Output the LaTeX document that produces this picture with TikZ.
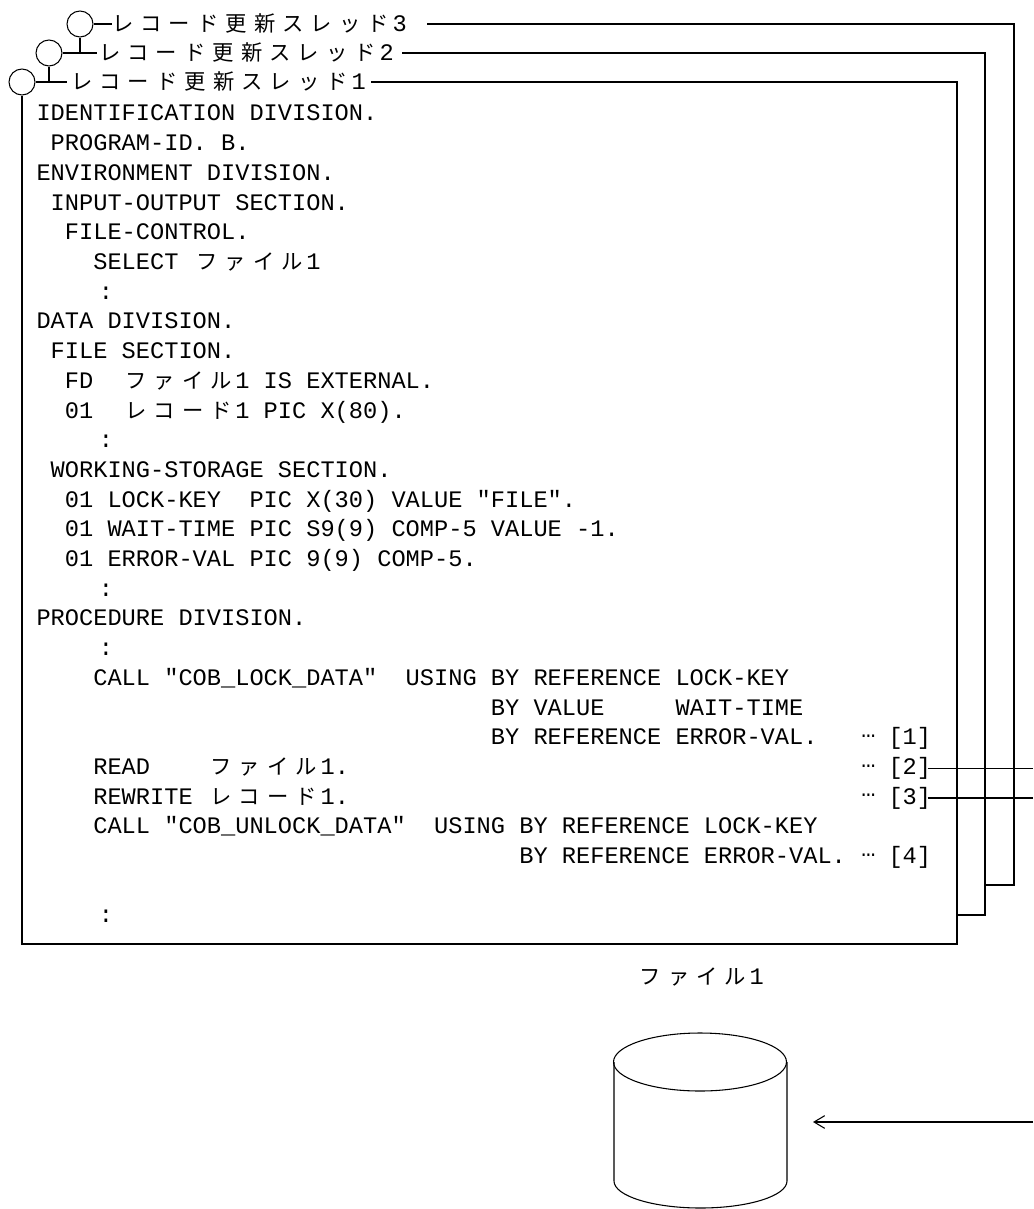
\documentclass[tikz,border=0pt]{standalone}
\usepackage{fontspec}
\usetikzlibrary{arrows.meta}
\newfontfamily\cfont{Liberation Mono}
\newfontfamily\jfont{Noto Sans CJK JP}
\newlength\cw
\setlength\cw{10.65pt}
\newcommand\jj[1]{\makebox[2\cw]{\jfont\fontsize{16pt}{16pt}\selectfont #1}}
\def\jstr#1{\jstrloop#1\relax}
\def\jstrloop#1{\ifx\relax#1\else\jj{#1}\expandafter\jstrloop\fi}
\newcommand\mk{\makebox[2\cw][l]{\hspace{1pt}\raisebox{5.5pt}{…}}}
\begin{document}
\begin{tikzpicture}[x=0.75pt,y=-0.75pt,line width=0.8pt,
  code/.style={font=\cfont\fontsize{17.75pt}{20pt}\selectfont\frenchspacing,inner sep=0pt,anchor=base west},
  colonmark/.style={code,anchor=base},
  thread/.style={draw,circle,minimum size=19.5pt,inner sep=0pt}]
\useasboundingbox (0,0) rectangle (1033,1209);
\coordinate (edge) at (1033,0);
% thread circles
\node[thread] (c3) at (80,24) {};
\node[thread] (c2) at (49,53) {};
\node[thread] (c1) at (22,82) {};
% headers
\node[code] (h3) at (108,32) {\jstr{レコード更新スレッド}3};
\node[code] (h2) at (95,61) {\jstr{レコード更新スレッド}2};
\node[code] (h1) at (67,90) {\jstr{レコード更新スレッド}1};
\coordinate (t3) at ([xshift=3pt]h3.west);
\coordinate (t2) at ([xshift=1.5pt]h2.west);
\coordinate (t1) at (h1.west);
\coordinate (e3) at ([xshift=15pt]h3.east);
\coordinate (e2) at ([xshift=6pt]h2.east);
\coordinate (e1) at ([xshift=3.75pt]h1.east);
\draw (c3.east) -- (t3 |- c3.east);
\draw (c2.east) -- (t2 |- c2.east);
\draw (c1.east) -- (t1 |- c1.east);
\draw (c3.south) -- (c3.south |- c2.east);
\draw (c2.south) -- (c2.south |- c1.east);
% page frames
\coordinate (b1tr) at (957,82);
\coordinate (b1br) at (957,944);
\coordinate (b1bl) at (22,944);
\coordinate (b2tr) at (985,53);
\coordinate (b2br) at (985,915);
\coordinate (b2bl) at (957,915);
\coordinate (b3tr) at (1014,24);
\coordinate (b3br) at (1014,885);
\coordinate (b3bl) at (985,885);
\draw (e1 |- c1.east) -- (b1tr) -- (b1br) -- (b1bl) -- (c1.south);
\draw (e2 |- c2.east) -- (b2tr) -- (b2br) -- (b2bl);
\draw (e3 |- c3.east) -- (b3tr) -- (b3br) -- (b3bl);
% code
\node[code] (l0) at (36,121) {IDENTIFICATION DIVISION.};
\node[code] (l1) at (50.2,150.7) {PROGRAM-ID. B.};
\node[code] (l2) at (36,180.4) {ENVIRONMENT DIVISION.};
\node[code] (l3) at (50.2,210.1) {INPUT-OUTPUT SECTION.};
\node[code] (l4) at (64.4,239.8) {FILE-CONTROL.};
\node[code] (l5) at (92.8,269.5) {SELECT \jstr{ファイル}1};
\node[colonmark] (l6) at (106,299.2) {:};
\node[code] (l7) at (36,328.9) {DATA DIVISION.};
\node[code] (l8) at (50.2,358.6) {FILE SECTION.};
\node[code] (l9) at (64.4,388.3) {FD~~\jstr{ファイル}1 IS EXTERNAL.};
\node[code] (l10) at (64.4,418) {01~~\jstr{レコード}1 PIC X(80).};
\node[colonmark] (l11) at (106,447.7) {:};
\node[code] (l12) at (50.2,477.4) {WORKING-STORAGE SECTION.};
\node[code] (l13) at (64.4,507.1) {01 LOCK-KEY~~PIC X(30) VALUE "FILE".};
\node[code] (l14) at (64.4,536.8) {01 WAIT-TIME PIC S9(9) COMP-5 VALUE -1.};
\node[code] (l15) at (64.4,566.5) {01 ERROR-VAL PIC 9(9) COMP-5.};
\node[colonmark] (l16) at (106,596.2) {:};
\node[code] (l17) at (36,625.9) {PROCEDURE DIVISION.};
\node[colonmark] (l18) at (106,655.6) {:};
\node[code] (l19) at (92.8,685.3) {CALL "COB\_LOCK\_DATA"~~USING BY REFERENCE LOCK-KEY};
\node[code] (l20) at (490.4,715) {BY VALUE~~~~~WAIT-TIME};
\node[code] (l21) at (490.4,744.7) {BY REFERENCE ERROR-VAL.};
\node[code] (l22) at (92.8,774.4) {READ~~~~\jstr{ファイル}1.};
\node[code] (l23) at (92.8,804.1) {REWRITE \jstr{レコード}1.};
\node[code] (l24) at (92.8,833.8) {CALL "COB\_UNLOCK\_DATA"~~USING BY REFERENCE LOCK-KEY};
\node[code] (l25) at (518.8,863.5) {BY REFERENCE ERROR-VAL.};
\node[colonmark] (l27) at (106,922.9) {:};
% markers
\node[code] (m1) at (859.6,744.7) {\mk[1]};
\node[code] (m2) at (859.6,774.4) {\mk[2]};
\node[code] (m3) at (859.6,804.1) {\mk[3]};
\node[code] (m4) at (859.6,863.5) {\mk[4]};
\draw ([xshift=-3pt]m2.east) -- (m2.east -| edge);
\draw ([xshift=-3pt]m3.east) -- (m3.east -| edge);
% file
\node[code,anchor=center] (flab) at (700,977) {\jstr{ファイル}1};
\coordinate (cyl) at (700,1062);
\draw (614,1062) -- (614,1181) arc[start angle=180,end angle=360,x radius=64.875pt,y radius=20.25pt] -- (787,1062);
\draw (cyl) ellipse[x radius=64.875pt,y radius=21.75pt];
\coordinate (as) at (1033,1122);
\coordinate (ae) at (813,1122);
\draw[-{Straight Barb[length=8pt,width=9.5pt]}] (as) -- (ae);
\end{tikzpicture}
\end{document}
